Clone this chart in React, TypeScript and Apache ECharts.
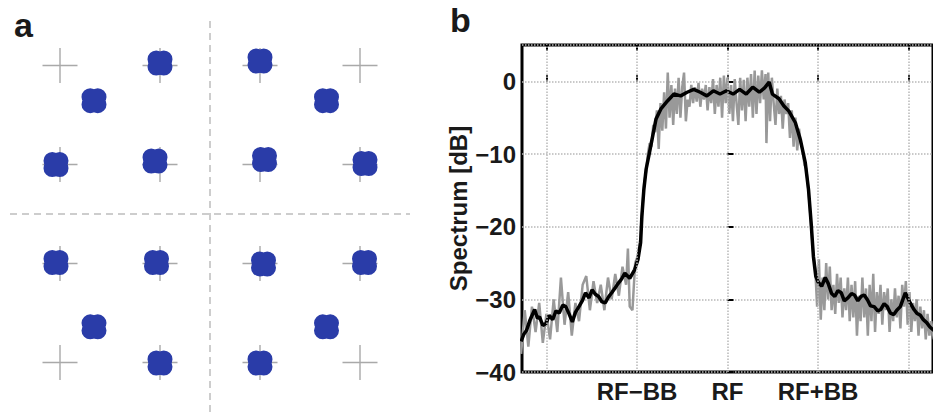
import React, { useEffect, useRef } from 'react';
import * as echarts from 'echarts';

// ---------- panel a: constellation ----------
const referenceLevels = [-3, -1, 1, 3];
const receivedI = [-1.0, -2.32, -3.08, -1.1, 1.0, 2.33, 1.09, 3.1, -3.08, -1.07, -2.32, -1.0, 1.07, 3.09, 2.33, 1.0];
const receivedQ = [3.05, 2.29, 1.0, 1.07, 3.09, 2.29, 1.1, 1.02, -0.98, -0.98, -2.28, -3.01, -1.01, -0.98, -2.28, -3.01];

// ---------- panel b: spectrum ----------
const gridFreq = [-2, -1, 0, 1, 2];
const labelFreq = [-1, 0, 1];
const freqLabels = ['RF\u2212BB', 'RF', 'RF+BB'];

const smoothSpectrum: number[][] = [
  [-2.28, -35.8], [-2.25, -34.8], [-2.221, -34.3], [-2.18, -32.8], [-2.13, -31.4], [-2.1, -32.6], [-2.076, -32.4], [-2.04, -33.6], [-2.004, -33.3], [-1.97, -32.2], [-1.931, -32.8],
  [-1.895, -31.6], [-1.859, -31.9], [-1.82, -30.8], [-1.786, -31.0], [-1.75, -32.0], [-1.714, -33.1], [-1.68, -31.8], [-1.641, -31.0], [-1.6, -30.1], [-1.569, -29.1], [-1.53, -29.8], [-1.496, -28.7],
  [-1.46, -29.3], [-1.424, -29.6], [-1.39, -30.3], [-1.351, -30.5], [-1.31, -29.6], [-1.279, -29.1], [-1.24, -28.4], [-1.207, -27.8], [-1.17, -27.2], [-1.134, -26.4], [-1.08, -27.1],
  [-1.025, -25.9], [-0.989, -24.5], [-0.96, -22.2], [-0.946, -18.6], [-0.924, -14.9], [-0.899, -12.1],
  [-0.862, -9.8], [-0.826, -7.5], [-0.79, -5.2], [-0.736, -3.8], [-0.663, -2.7], [-0.591, -1.75],
  [-0.518, -2.0], [-0.446, -1.5], [-0.373, -1.1], [-0.301, -1.5], [-0.228, -2.0], [-0.156, -1.3],
  [-0.083, -1.75], [-0.011, -1.3], [0.062, -1.75], [0.134, -1.1], [0.207, -1.75], [0.279, -0.8],
  [0.351, -1.5], [0.41, -0.9], [0.46, -0.1], [0.496, -1.75], [0.569, -2.4], [0.623, -3.4], [0.678, -4.1],
  [0.75, -5.7], [0.804, -8.0], [0.859, -11.2], [0.895, -14.9], [0.924, -19.5], [0.949, -24.1],
  [0.975, -26.8], [1.0, -27.6], [1.04, -28.2], [1.08, -27.0], [1.112, -27.8], [1.15, -29.2], [1.185, -29.6], [1.22, -28.8], [1.257, -29.1], [1.29, -30.2], [1.33, -29.8],
  [1.37, -29.2], [1.402, -29.4], [1.44, -30.2], [1.475, -29.6], [1.51, -29.4], [1.547, -30.1], [1.58, -30.9], [1.62, -31.0], [1.66, -31.6], [1.692, -31.4], [1.73, -30.6], [1.764, -31.0],
  [1.8, -31.9], [1.837, -32.1], [1.87, -31.5], [1.909, -31.0], [1.964, -29.1], [2.018, -30.5], [2.06, -31.4], [2.091, -31.9], [2.13, -32.2], [2.163, -32.8],
  [2.2, -33.2], [2.236, -33.8], [2.28, -34.3],
];

const rawSpectrum: number[][] = [
  [-2.28, -37.5], [-2.24, -31.5], [-2.2, -36.5], [-2.16, -31.0], [-2.12, -34.5], [-2.08, -30.5],
  [-2.04, -36.0], [-2.0, -32.0], [-1.96, -35.5], [-1.92, -30.0], [-1.88, -34.5], [-1.84, -27.0],
  [-1.8, -33.5], [-1.76, -29.0], [-1.72, -35.0], [-1.68, -30.5], [-1.64, -33.0], [-1.6, -28.0],
  [-1.56, -26.8], [-1.52, -31.5], [-1.48, -27.5], [-1.44, -30.5], [-1.4, -28.0], [-1.36, -31.5],
  [-1.32, -27.0], [-1.28, -30.0], [-1.24, -26.5], [-1.2, -29.5], [-1.16, -25.5], [-1.12, -28.0],
  [-1.1, -23.0], [-1.08, -31.0], [-1.05, -31.5], [-1.02, -25.0], [-0.99, -24.0], [-0.96, -21.5],
  [-0.94, -17.5], [-0.92, -14.0], [-0.9, -12.5], [-0.88, -10.0], [-0.86, -8.5], [-0.84, -9.0],
  [-0.82, -6.0], [-0.8, -7.0], [-0.78, -4.0], [-0.76, -9.3], [-0.74, -3.0], [-0.72, -6.8],
  [-0.7, -1.5], [-0.68, -6.5], [-0.66, 1.2], [-0.64, -5.0], [-0.62, -0.5], [-0.6, -6.0],
  [-0.58, -1.0], [-0.56, -4.5], [-0.54, 0.5], [-0.52, -5.0], [-0.5, -0.8], [-0.48, 1.2],
  [-0.46, -5.5], [-0.44, -2.5], [-0.42, -3.5], [-0.4, -0.5], [-0.38, -3.0], [-0.36, -0.8],
  [-0.34, -2.8], [-0.32, -0.2], [-0.3, -3.5], [-0.28, -1.0], [-0.26, -2.5], [-0.24, -0.5],
  [-0.22, -4.0], [-0.2, -0.8], [-0.18, -3.0], [-0.16, 0.3], [-0.14, -4.5], [-0.12, -0.5],
  [-0.1, -3.5], [-0.08, 0.5], [-0.06, -5.0], [-0.04, 0.8], [-0.02, -3.0], [0.0, 0.5],
  [0.02, -4.5], [0.04, -0.5], [0.06, -5.5], [0.08, 0.3], [0.1, -3.0], [0.12, -6.0],
  [0.14, 0.5], [0.16, -4.0], [0.18, 0.2], [0.2, -5.5], [0.22, 0.5], [0.24, -3.5],
  [0.26, 1.0], [0.28, -5.0], [0.3, 1.5], [0.32, -4.5], [0.34, 0.8], [0.36, -3.0],
  [0.38, 1.5], [0.4, -2.5], [0.42, 1.0], [0.43, -8.5], [0.45, 1.2], [0.47, -5.5],
  [0.49, 0.5], [0.51, -3.0], [0.53, -6.0], [0.55, -1.0], [0.57, -4.5], [0.59, -2.0],
  [0.61, -6.5], [0.63, -2.5], [0.65, -4.5], [0.67, -3.0], [0.69, -7.8], [0.71, -4.0],
  [0.73, -9.0], [0.75, -5.0], [0.77, -9.5], [0.79, -6.5], [0.81, -8.5], [0.83, -9.5],
  [0.85, -11.5], [0.87, -12.0], [0.89, -14.5], [0.91, -17.5], [0.93, -21.0], [0.95, -24.0],
  [0.97, -26.0], [0.99, -31.0], [1.01, -24.5], [1.03, -32.8], [1.05, -27.0], [1.07, -31.5],
  [1.09, -25.0], [1.11, -30.0], [1.13, -25.5], [1.15, -31.5], [1.17, -28.0], [1.19, -32.0],
  [1.21, -26.5], [1.23, -30.5], [1.25, -27.0], [1.27, -32.5], [1.29, -28.5], [1.31, -31.5],
  [1.33, -27.0], [1.35, -33.0], [1.37, -28.0], [1.39, -32.5], [1.41, -27.5], [1.43, -35.0],
  [1.45, -29.5], [1.47, -33.0], [1.49, -27.0], [1.51, -32.5], [1.53, -28.5], [1.55, -35.0],
  [1.57, -28.0], [1.59, -33.0], [1.61, -26.5], [1.63, -34.5], [1.65, -29.0], [1.67, -32.0],
  [1.69, -28.0], [1.71, -33.5], [1.73, -29.0], [1.75, -31.5], [1.77, -28.5], [1.79, -34.5],
  [1.81, -30.0], [1.83, -33.0], [1.85, -28.5], [1.87, -32.5], [1.89, -29.5], [1.91, -34.0],
  [1.93, -28.0], [1.95, -31.0], [1.97, -27.5], [1.99, -33.5], [2.01, -29.0], [2.03, -34.5],
  [2.05, -30.5], [2.07, -33.0], [2.09, -30.0], [2.11, -35.0], [2.13, -31.0], [2.15, -34.0],
  [2.17, -31.5], [2.19, -35.5], [2.21, -32.0], [2.23, -35.0], [2.25, -33.0], [2.28, -35.5],
];

const FONT = "'Liberation Sans', Arial, Helvetica, sans-serif";

const CLOVER =
  'path://M0 35 A35 35 0 1 0 70 35 A35 35 0 1 0 0 35 Z ' +
  'M30 35 A35 35 0 1 0 100 35 A35 35 0 1 0 30 35 Z ' +
  'M0 65 A35 35 0 1 0 70 65 A35 35 0 1 0 0 65 Z ' +
  'M30 65 A35 35 0 1 0 100 65 A35 35 0 1 0 30 65 Z';
const PLUS = 'path://M0 48 H100 V52 H0 Z M48 0 H52 V100 H48 Z';

export default function App() {
  const ref = useRef<HTMLDivElement>(null);

  useEffect(() => {
    if (!ref.current) return;
    const chart = echarts.init(ref.current, undefined, { renderer: 'svg' });

    const crossData: number[][] = [];
    referenceLevels.forEach((q) => referenceLevels.forEach((i) => crossData.push([i, q])));
    const blobData = receivedI.map((v, k) => [v, receivedQ[k]]);

    const option: any = {
      animation: false,
      backgroundColor: '#ffffff',
      textStyle: { fontFamily: FONT },
      grid: [
        { left: 10, top: 16, width: 400, height: 400, show: false },
        {
          left: 522, top: 45, right: -7, bottom: 40, show: true,
          borderColor: '#000', borderWidth: 3, backgroundColor: 'transparent',
        },
      ],
      xAxis: [
        { gridIndex: 0, type: 'value', min: -4, max: 4, show: false },
        {
          gridIndex: 1, type: 'value', min: -2.27, max: 2.27,
          axisLine: { show: false },
          axisTick: { show: true, inside: true, length: 6, customValues: gridFreq, lineStyle: { color: '#000', width: 2 } },
          axisLabel: {
            show: true, customValues: labelFreq, margin: 7,
            fontSize: 24, fontWeight: 'bold', color: '#1a1a1a', fontFamily: FONT,
            formatter: (v: number) => freqLabels[labelFreq.indexOf(Math.round(v))] ?? '',
          },
          splitLine: { show: false },
        },
        {
          gridIndex: 1, type: 'value', min: -2.27, max: 2.27, position: 'top',
          axisLine: { show: false },
          axisTick: { show: true, inside: true, length: 6, customValues: gridFreq, lineStyle: { color: '#000', width: 2 } },
          axisLabel: { show: false },
          splitLine: { show: false },
        },
      ],
      yAxis: [
        { gridIndex: 0, type: 'value', min: -4, max: 4, show: false },
        {
          gridIndex: 1, type: 'value', min: -40, max: 5, interval: 10,
          axisLine: { show: false },
          axisTick: { show: true, inside: true, length: 6, lineStyle: { color: '#000', width: 2 } },
          axisLabel: {
            showMaxLabel: false, margin: 6,
            fontSize: 24, fontWeight: 'bold', color: '#1a1a1a', fontFamily: FONT,
            formatter: (v: number) => (v > 0 ? '' : v === 0 ? '0' : '\u2212' + Math.abs(v)),
          },
          splitLine: { show: true, lineStyle: { color: '#b8b8b8', type: 'dotted', width: 1.5 } },
          name: 'Spectrum [dB]',
          nameLocation: 'middle',
          nameRotate: 90,
          nameGap: 52,
          nameTextStyle: { fontSize: 24, fontWeight: 'bold', color: '#1a1a1a', fontFamily: FONT },
        },
      ],
      series: [
        {
          name: 'reference',
          type: 'scatter',
          xAxisIndex: 0, yAxisIndex: 0,
          data: crossData,
          symbol: PLUS,
          symbolSize: 35,
          itemStyle: { color: '#a9a9a9', opacity: 1 },
          silent: true,
          z: 1,
          markLine: {
            silent: true,
            symbol: ['none', 'none'],
            label: { show: false },
            lineStyle: { color: '#bdbdbd', type: [7, 5], width: 1.5 },
            data: [{ xAxis: 0 }, { yAxis: 0 }],
          },
        },
        {
          name: 'received',
          type: 'scatter',
          xAxisIndex: 0, yAxisIndex: 0,
          data: blobData,
          symbol: CLOVER,
          symbolSize: 25,
          itemStyle: { color: '#2a3ca8', opacity: 1 },
          z: 3,
        },
        {
          name: 'grid',
          type: 'line',
          xAxisIndex: 1, yAxisIndex: 1,
          data: [],
          silent: true,
          z: 1,
          markLine: {
            silent: true,
            symbol: ['none', 'none'],
            label: { show: false },
            lineStyle: { color: '#b8b8b8', type: 'dotted', width: 1.5 },
            data: gridFreq.map((v) => ({ xAxis: v })),
          },
        },
        {
          name: 'raw',
          type: 'line',
          xAxisIndex: 1, yAxisIndex: 1,
          data: rawSpectrum,
          showSymbol: false,
          lineStyle: { color: '#999999', width: 2.5 },
          z: 2,
        },
        {
          name: 'smoothed',
          type: 'line',
          xAxisIndex: 1, yAxisIndex: 1,
          data: smoothSpectrum,
          showSymbol: false,
          lineStyle: { color: '#000', width: 3.5 },
          z: 3,
        },
      ],
      graphic: [
        { type: 'text', left: 14, top: 8, style: { text: 'a', font: `bold 34px ${FONT}`, fill: '#1a1a1a' } },
        { type: 'text', left: 450, top: 3, style: { text: 'b', font: `bold 34px ${FONT}`, fill: '#1a1a1a' } },
      ],
    };

    chart.setOption(option);
    return () => chart.dispose();
  }, []);

  return (
    <div
      ref={ref}
      style={{ position: 'absolute', left: 0, top: 0, width: 933, height: 412 }}
    />
  );
}
